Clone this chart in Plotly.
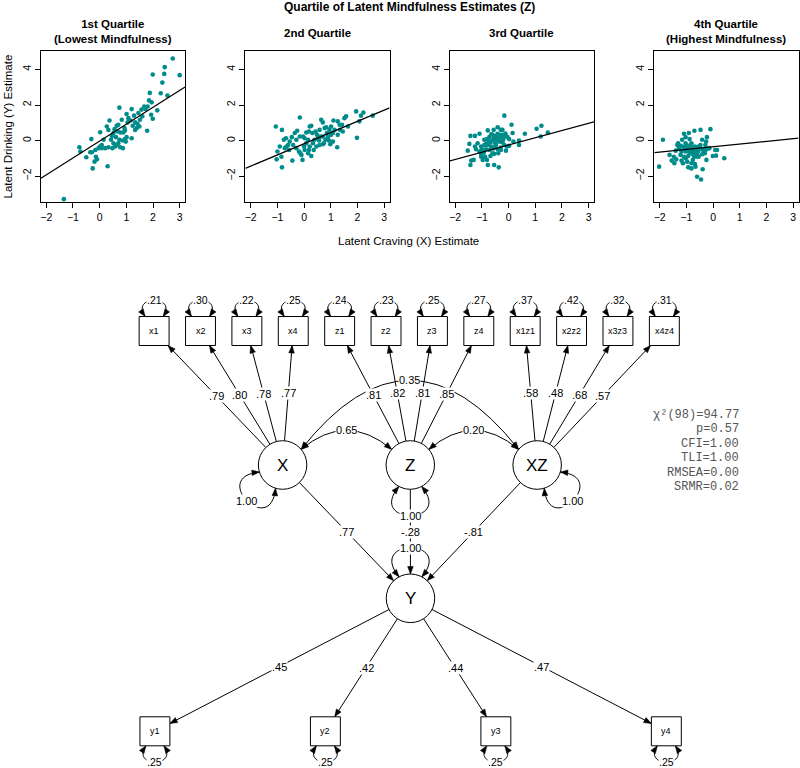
import math
import plotly.graph_objects as go

W, H = 800, 768
FONT = "Liberation Sans, Arial, Helvetica, sans-serif"
MONO = "Liberation Mono, Courier New, monospace"
TEAL = "#008b8b"

# ---------------- scatter data ----------------
main_title = "Quartile of Latent Mindfulness Estimates (Z)"
quartile_titles = ["1st Quartile<br>(Lowest Mindfulness)", "2nd Quartile",
                   "3rd Quartile", "4th Quartile<br>(Highest Mindfulness)"]
x_title = "Latent Craving (X) Estimate"
y_title = "Latent Drinking (Y) Estimate"
x_tick_vals = [-2, -1, 0, 1, 2, 3]
y_tick_vals = [-2, 0, 2, 4]

q1_x = [2.74, 2.44, 2.42, 1.99, 3.00, 2.35, 2.54, 1.88, 2.29, 1.85, 1.95, 1.80, 1.67, 1.72, 1.57,
        2.16, 1.93, 1.99, 1.78, 1.49, 1.39, 1.33, 1.20, 1.29, 1.01, 1.08, 1.16, 0.74, 0.37, 1.05,
        0.93, 0.95, 0.89, 1.24, 1.33, 1.42, 1.51, 1.60, 1.45, 0.83, 0.70, 0.64, 0.56, 0.68, 0.78,
        0.52, 0.46, 0.61, 0.74, 0.87, 0.95, 1.01, 1.20, 0.02, 0.15, 0.27, 0.33, 0.43, 0.52, 0.58,
        0.64, 0.70, 0.48, 0.77, 0.87, 0.98, -0.04, 0.08, 0.21, 0.33, 0.08, -0.16, -0.29, -0.14,
        -0.10, -0.19, -0.31, -0.76, -0.72, -0.50, -0.26, 0.30, -1.34, -0.35, 0.02]
q1_y = [4.62, 4.13, 3.75, 3.72, 3.68, 3.26, 2.53, 2.68, 2.66, 2.26, 2.15, 1.92, 1.92, 1.77, 1.74,
        1.70, 1.45, 1.23, 0.55, 0.79, 0.70, 1.02, 1.77, 1.40, 1.49, 1.26, 1.13, 1.85, 1.13, 1.02,
        0.70, 0.57, 0.45, 0.83, 0.60, 0.94, 1.17, 1.36, 1.55, 1.17, 0.89, 0.83, 0.64, 0.51, 0.45,
        0.42, 0.26, 0.19, 0.04, 0.00, 0.08, 0.19, 0.13, 0.47, 0.04, 0.79, 0.60, 0.04, -0.15, -0.34,
        -0.25, -0.15, -0.43, -0.38, -0.43, -0.06, -0.43, -0.43, -0.43, -0.38, -0.25, -0.53, -0.66,
        -0.91, -1.06, -1.19, 0.08, -0.38, -0.62, -0.94, -1.57, -1.45, -3.30, -0.66, -0.34]

q2_x = [-1.06, -0.83, -0.16, -0.26, -0.46, -0.68, -0.76, -0.91, -1.00, -0.85,
        -1.03, -0.72, -0.66, -0.56, -0.54, -0.41, -0.29, -0.19, -0.10, -0.06,
        -0.14, -0.44, -0.83, 0.00, 0.02, 0.08, 0.18, 0.21, 0.27, 0.31,
        0.15, 0.08, 0.21, 0.33, 0.36, 0.27, 0.18, 0.43, 0.48, 0.52,
        0.56, 0.62, 0.64, 0.70, 0.77, 0.83, 0.85, 0.89, 0.80, 0.74,
        0.70, 0.95, 1.01, 1.08, 1.10, 1.14, 1.26, 1.33, 1.35, 1.42,
        1.51, 1.57, 1.45, 1.26, 1.24, 1.08, 0.98, 1.95, 2.13, 2.22,
        2.07, 2.57, 1.98, -0.04, 0.39, 0.58, 0.46, 0.02, 0.15, -0.29,
        -0.60, -0.35, -0.16, 0.70, 0.93, 1.64, 1.01, 0.58]
q2_y = [0.79, 0.60, 1.30, 0.55, 0.19, 0.13, 0.04, -0.34, -0.62, -0.91,
        -1.06, -0.43, -0.34, -0.53, -0.06, -0.25, -0.43, -0.62, -0.81, -1.09,
        -0.72, -1.13, -1.51, -0.34, 0.13, 0.45, 0.51, 0.79, 0.83, 0.42,
        0.04, -0.15, -0.34, -0.15, -0.53, -0.87, -0.53, 0.51, 0.32, 0.13,
        0.00, 0.23, 1.17, 1.02, 0.70, 0.75, 0.42, 0.19, 0.04, -0.15,
        -0.21, 0.60, 0.32, 0.42, 1.13, 0.60, 1.08, 0.89, 0.60, 0.89,
        1.26, 1.36, 0.51, 0.32, -0.38, -0.06, -0.21, 1.64, 1.40, 1.58,
        1.08, 1.40, 0.15, 0.23, 0.04, -0.25, -0.34, -0.53, -0.72, 0.04,
        -0.25, 0.42, 0.23, 0.23, 0.00, 0.79, 0.79, 0.60]

q3_x = [-0.16, 0.11, 1.05, 1.23, 1.47, 0.61, 0.15, 0.39, 0.39, 1.20,
        -0.41, -0.56, -0.78, -1.09, -1.26, -1.43, -1.47, -1.53, -1.26, -1.22,
        -1.03, -1.00, -0.91, -0.81, -0.68, -0.62, -0.54, -0.47, -0.41, -0.35,
        -0.29, -0.47, -0.41, -0.31, -0.25, -0.16, -0.10, -0.04, 0.02, -0.23,
        -0.16, -0.06, -0.10, -0.29, -0.41, -0.54, -0.66, -0.72, -0.85, -0.93,
        -1.03, -1.09, -0.88, -0.81, -0.78, -0.68, -0.60, -0.54, -0.39, -1.40,
        -1.31, -1.43, -0.54, -0.37, 0.02, 0.18, -0.78, -0.60, -0.29, -0.47,
        -0.72, -0.91, -1.03, -1.16, -0.97, -0.23,
        -0.45, -0.35, -0.20, -0.50, -0.75, -0.65, -0.85, -0.30, -0.58, -0.12]
q3_y = [1.40, 0.89, 0.66, 0.83, 0.45, 0.38, 0.42, 0.00, -0.25, 0.23,
        0.75, 0.60, 0.57, 0.38, 0.26, 0.26, -0.19, -0.57, -0.34, -0.49,
        -0.34, -0.49, 0.04, 0.08, -0.11, 0.00, 0.13, 0.04, 0.08, -0.06,
        0.04, 0.26, 0.38, 0.23, 0.32, 0.23, 0.26, 0.19, 0.08, -0.11,
        -0.25, -0.34, -0.57, -0.53, -0.49, -0.38, -0.34, -0.53, -0.49, -0.68,
        -0.75, -0.62, -0.91, -1.09, -1.38, -0.87, -0.72, -0.75, -0.72, -1.13,
        -1.09, -1.38, -1.38, -1.51, -0.30, -0.06, -0.25, 0.32, 0.60, -0.25,
        0.19, -0.25, -0.91, -0.15, -1.09, 0.60,
        0.15, 0.30, 0.05, -0.15, -0.05, 0.35, -0.20, -0.40, -0.45, 0.40]

q4_x = [-0.10, -0.47, -0.70, -0.91, -1.09, -1.03, -0.88, -0.23, -0.26, -0.41,
        -1.88, -1.31, -1.22, -1.16, -1.09, -1.03, -0.97, -0.91, -0.85, -0.81,
        -0.76, -0.68, -0.64, -0.60, -0.56, -0.66, -0.72, -0.60, -0.54, -0.41,
        -0.35, -0.29, -0.23, -0.14, 0.08, 0.15, 0.11, -0.01, 0.42, -0.41,
        -0.31, -1.63, -1.40, -1.47, -1.38, -1.55, -1.45, -1.18, -1.13, -1.03,
        -0.97, -0.93, -0.85, -0.81, -0.76, -0.68, -0.81, -0.93, -0.66, -0.39,
        -0.25, -2.02, -0.60, -0.45, -1.28, -1.18, -1.03, -0.78, -0.54, -0.47,
        -1.22, -1.09, -0.88, -0.72, -0.64, -1.03, -1.16, -1.34, -0.29,
        -0.65, -0.70, -0.95, -1.00, -0.60, -0.75, -0.55, -0.85]
q4_y = [0.64, 0.60, 0.55, 0.42, 0.38, 0.19, 0.08, 0.19, -0.06, 0.04,
        0.04, -0.15, -0.30, -0.34, -0.38, -0.43, -0.49, -0.34, -0.25, -0.15,
        -0.38, -0.34, -0.43, -0.53, -0.62, -0.72, -0.87, -0.81, -0.91, -0.49,
        -0.62, -0.53, -0.47, -0.43, -0.53, -0.53, -0.85, -0.87, -1.00, -0.77,
        -0.72, -0.81, -0.57, -0.91, -1.06, -1.13, -1.28, -1.13, -1.28, -1.00,
        -1.19, -0.87, -0.72, -1.28, -1.09, -1.32, -1.57, -1.51, -1.47, -1.62,
        -1.09, -1.47, -2.04, -2.19, -0.43, -0.62, -0.62, -0.53, -0.34, -0.25,
        -0.81, -0.91, -0.53, -0.62, -0.91, -0.15, 0.04, -0.25, -0.25,
        -0.65, -0.45, -0.60, -0.30, -0.70, -0.75, -0.45, -0.45]

fit_intercepts = [-0.03, -0.18, -0.25, -0.35]
fit_slopes = [0.95, 0.63, 0.405, 0.15]

# ---------------- SEM data ----------------
top_indicators = ["x1", "x2", "x3", "x4", "z1", "z2", "z3", "z4", "x1z1", "x2z2", "x3z3", "x4z4"]
top_factor = ["X", "X", "X", "X", "Z", "Z", "Z", "Z", "XZ", "XZ", "XZ", "XZ"]
top_loadings = [0.79, 0.80, 0.78, 0.77, 0.81, 0.82, 0.81, 0.85, 0.58, 0.48, 0.68, 0.57]
top_residuals = [0.21, 0.30, 0.22, 0.25, 0.24, 0.23, 0.25, 0.27, 0.37, 0.42, 0.32, 0.31]
y_indicators = ["y1", "y2", "y3", "y4"]
y_loadings = [0.45, 0.42, 0.44, 0.47]
y_residuals = [0.25, 0.25, 0.25, 0.25]
latent_names = ["X", "Z", "XZ", "Y"]
latent_variances = [1.00, 1.00, 1.00, 1.00]
cov_pairs = [("X", "Z"), ("Z", "XZ"), ("X", "XZ")]
cov_values = [0.65, 0.20, 0.35]
reg_sources = ["X", "Z", "XZ"]
reg_values = [0.77, -0.28, -0.81]
fit_labels = ["χ²(98)", "p", "CFI", "TLI", "RMSEA", "SRMR"]
fit_values = ["94.77", "0.57", "1.00", "1.00", "0.00", "0.02"]

# ---------------- geometry (pixels) ----------------
panel_left = [40, 245, 450, 655]
panel_w = 144.5
panel_top, panel_bottom = 51, 202
x_range = [-2.2, 3.2]
y_range = [-3.46, 5.04]

node_pos = {"X": (282.3, 465.0), "Z": (410.3, 465.0), "XZ": (537.5, 465.0), "Y": (410.5, 598.3)}
node_r = 24.3
loop_angle = {"X": 135, "Z": 90, "XZ": 45, "Y": -90}
top_x0, top_dx, top_y = 153.5, 46.5, 331.0
bot_x0, bot_dx, bot_y = 154.3, 170.9, 731.3
box_hw, box_hh = 15.0, 14.5
arc_angle = 40
arc_bulge = [19, 19, 69]
fit_right, fit_y0, fit_dy = 742, 415, 14.4


def short(v):
    s = f"{v:.2f}"
    return s.replace("0.", ".", 1) if abs(v) < 1 else s


def px(x):
    return x / W


def py(y):
    return 1 - y / H


fig = go.Figure()
layout_axes = {}
panel_data = [(q1_x, q1_y), (q2_x, q2_y), (q3_x, q3_y), (q4_x, q4_y)]
annotations = []
for i, (qx, qy) in enumerate(panel_data):
    sfx = "" if i == 0 else str(i + 1)
    xa, ya = "x" + sfx, "y" + sfx
    fig.add_trace(go.Scatter(x=qx, y=qy, mode="markers", xaxis=xa, yaxis=ya,
                             marker=dict(color=TEAL, size=4.6, line=dict(width=0)),
                             showlegend=False, hoverinfo="skip"))
    lx = list(x_range)
    fig.add_trace(go.Scatter(x=lx, y=[fit_intercepts[i] + fit_slopes[i] * v for v in lx],
                             mode="lines", xaxis=xa, yaxis=ya,
                             line=dict(color="black", width=1.2),
                             showlegend=False, hoverinfo="skip"))
    common = dict(showline=True, mirror=True, linecolor="black", linewidth=1,
                  ticks="outside", ticklen=5, tickwidth=1, tickcolor="black",
                  showgrid=False, zeroline=False, fixedrange=True,
                  tickfont=dict(family=FONT, size=10.5, color="black"))
    layout_axes["xaxis" + sfx] = dict(common, domain=[px(panel_left[i]), px(panel_left[i] + panel_w)],
                                      range=x_range, tickvals=x_tick_vals, anchor=ya)
    layout_axes["yaxis" + sfx] = dict(common, domain=[py(panel_bottom), py(panel_top)],
                                      range=y_range, tickvals=y_tick_vals, tickangle=-90, anchor=xa)
    two = "<br>" in quartile_titles[i]
    annotations.append(dict(xref="paper", yref="paper", x=px(panel_left[i] + panel_w / 2),
                            y=py(32 if two else 33), text="<b>" + quartile_titles[i] + "</b>",
                            showarrow=False, xanchor="center", yanchor="middle",
                            font=dict(family=FONT, size=11.5, color="black")))

annotations.append(dict(xref="paper", yref="paper", x=px(410), y=py(7), text="<b>" + main_title + "</b>",
                        showarrow=False, xanchor="center", yanchor="middle",
                        font=dict(family=FONT, size=12, color="black")))
annotations.append(dict(xref="paper", yref="paper", x=px(409), y=py(241), text=x_title,
                        showarrow=False, xanchor="center", yanchor="middle",
                        font=dict(family=FONT, size=11.5, color="black")))
annotations.append(dict(xref="paper", yref="paper", x=px(8), y=py(126.5), text=y_title,
                        showarrow=False, xanchor="center", yanchor="middle", textangle=-90,
                        font=dict(family=FONT, size=11.5, color="black")))

# overlay pixel axis for the path diagram
layout_axes["xaxis5"] = dict(domain=[0, 1], range=[0, W], visible=False, anchor="y5", fixedrange=True)
layout_axes["yaxis5"] = dict(domain=[0, 1], range=[H, 0], visible=False, anchor="x5", fixedrange=True)

shapes = []
LINE = dict(color="black", width=1)


def unit(dx, dy):
    n = math.hypot(dx, dy)
    return dx / n, dy / n


def add_head(tip, frm, L=7.5, w=2.8):
    dx, dy = unit(tip[0] - frm[0], tip[1] - frm[1])
    bx, by = tip[0] - L * dx, tip[1] - L * dy
    nx, ny = -dy, dx
    d = (f"M{tip[0]:.2f},{tip[1]:.2f} L{bx + w * nx:.2f},{by + w * ny:.2f} "
         f"L{bx - w * nx:.2f},{by - w * ny:.2f} Z")
    shapes.append(dict(type="path", xref="x5", yref="y5", path=d,
                       fillcolor="black", line=dict(color="black", width=0.5)))


def add_label(x, y, text, size=11, bg="white", color="black", family=FONT, **kw):
    a = dict(xref="x5", yref="y5", x=x, y=y, text=text, showarrow=False,
             xanchor="center", yanchor="middle", borderpad=0,
             font=dict(family=family, size=size, color=color))
    if bg:
        a["bgcolor"] = bg
    a.update(kw)
    annotations.append(a)


nodes = {}
for n in latent_names:
    nodes[n] = ("circle",) + node_pos[n]
for i, n in enumerate(top_indicators):
    nodes[n] = ("box", top_x0 + top_dx * i, top_y)
for i, n in enumerate(y_indicators):
    nodes[n] = ("box", bot_x0 + bot_dx * i, bot_y)


def border(name, toward):
    kind, cx, cy = nodes[name]
    dx, dy = unit(toward[0] - cx, toward[1] - cy)
    if kind == "circle":
        return cx + node_r * dx, cy + node_r * dy
    t = min(box_hw / abs(dx) if dx else 1e9, box_hh / abs(dy) if dy else 1e9)
    return cx + t * dx, cy + t * dy


def straight_edge(a, b, label):
    ca, cb = nodes[a][1:], nodes[b][1:]
    pa = border(a, cb)
    pb = border(b, ca)
    shapes.append(dict(type="line", xref="x5", yref="y5", x0=pa[0], y0=pa[1],
                       x1=pb[0], y1=pb[1], line=LINE))
    add_head(pb, pa)
    add_label((pa[0] + pb[0]) / 2, (pa[1] + pb[1]) / 2, label)


def loop(name, theta_deg, label):
    kind, cx, cy = nodes[name]
    th = math.radians(theta_deg)
    fx, fy = math.cos(th), math.sin(th)
    lx, ly = -fy, fx
    if kind == "circle":
        r = node_r
        b, g, R = math.radians(28), math.radians(36), 3.07 * node_r
        p0 = (cx + r * math.cos(th - b), cy + r * math.sin(th - b))
        p3 = (cx + r * math.cos(th + b), cy + r * math.sin(th + b))
        c1 = (cx + R * math.cos(th - g), cy + R * math.sin(th - g))
        c2 = (cx + R * math.cos(th + g), cy + R * math.sin(th + g))
    else:
        e = box_hh
        p0 = (cx + e * fx - 9 * lx, cy + e * fy - 9 * ly)
        p3 = (cx + e * fx + 9 * lx, cy + e * fy + 9 * ly)
        c1 = (cx + (e + 22) * fx - 24 * lx, cy + (e + 22) * fy - 24 * ly)
        c2 = (cx + (e + 22) * fx + 24 * lx, cy + (e + 22) * fy + 24 * ly)
    d = (f"M{p0[0]:.2f},{p0[1]:.2f} C{c1[0]:.2f},{c1[1]:.2f} "
         f"{c2[0]:.2f},{c2[1]:.2f} {p3[0]:.2f},{p3[1]:.2f}")
    shapes.append(dict(type="path", xref="x5", yref="y5", path=d, line=LINE))
    add_head(p0, c1)
    add_head(p3, c2)
    mx = (p0[0] + 3 * c1[0] + 3 * c2[0] + p3[0]) / 8
    my = (p0[1] + 3 * c1[1] + 3 * c2[1] + p3[1]) / 8
    add_label(mx, my, label, size=11 if kind == "circle" else 10.5)


def arc(a, b, bulge, label):
    _, ax, ay = nodes[a]
    _, bx, by = nodes[b]
    t1 = math.radians(-arc_angle)
    t2 = math.radians(-180 + arc_angle)
    p0 = (ax + node_r * math.cos(t1), ay + node_r * math.sin(t1))
    p2 = (bx + node_r * math.cos(t2), by + node_r * math.sin(t2))
    c = ((p0[0] + p2[0]) / 2, (p0[1] + p2[1]) / 2 - 2 * bulge)
    d = f"M{p0[0]:.2f},{p0[1]:.2f} Q{c[0]:.2f},{c[1]:.2f} {p2[0]:.2f},{p2[1]:.2f}"
    shapes.append(dict(type="path", xref="x5", yref="y5", path=d, line=LINE))
    add_head(p0, c)
    add_head(p2, c)
    mx = (p0[0] + 2 * c[0] + p2[0]) / 4
    my = (p0[1] + 2 * c[1] + p2[1]) / 4
    add_label(mx, my, label)


# edges
for i, n in enumerate(top_indicators):
    straight_edge(top_factor[i], n, short(top_loadings[i]))
for i, n in enumerate(y_indicators):
    straight_edge("Y", n, short(y_loadings[i]))
for s, v in zip(reg_sources, reg_values):
    straight_edge(s, "Y", short(v))
for (a, b), v, bl in zip(cov_pairs, cov_values, arc_bulge):
    arc(a, b, bl, f"{v:.2f}")

# residual loops
for i, n in enumerate(top_indicators):
    loop(n, -90, short(top_residuals[i]))
for i, n in enumerate(y_indicators):
    loop(n, 90, short(y_residuals[i]))
for n, v in zip(latent_names, latent_variances):
    loop(n, loop_angle[n], f"{v:.2f}")

# nodes on top
for n, (kind, cx, cy) in nodes.items():
    if kind == "circle":
        shapes.append(dict(type="circle", xref="x5", yref="y5", x0=cx - node_r, x1=cx + node_r,
                           y0=cy - node_r, y1=cy + node_r, line=LINE, fillcolor="white"))
        add_label(cx, cy, n, size=17, bg=None)
    else:
        shapes.append(dict(type="rect", xref="x5", yref="y5", x0=cx - box_hw, x1=cx + box_hw,
                           y0=cy - box_hh, y1=cy + box_hh, line=LINE, fillcolor="white"))
        add_label(cx, cy, n, size=9, bg=None)

# fit statistics
for i, (lab, val) in enumerate(zip(fit_labels, fit_values)):
    annotations.append(dict(xref="x5", yref="y5", x=fit_right, y=fit_y0 + fit_dy * i,
                            text=f"{lab}={val}", showarrow=False, xanchor="right", yanchor="middle",
                            font=dict(family=MONO, size=12, color="#555555")))

fig.update_layout(width=W, height=H, margin=dict(l=0, r=0, t=0, b=0),
                  paper_bgcolor="white", plot_bgcolor="rgba(0,0,0,0)",
                  font=dict(family=FONT, color="black"),
                  showlegend=False, shapes=shapes, annotations=annotations, **layout_axes)
fig.write_html("out.html", config={"displayModeBar": False, "staticPlot": True},
               post_script="document.body.style.margin='0px';document.body.style.overflow='hidden';")
